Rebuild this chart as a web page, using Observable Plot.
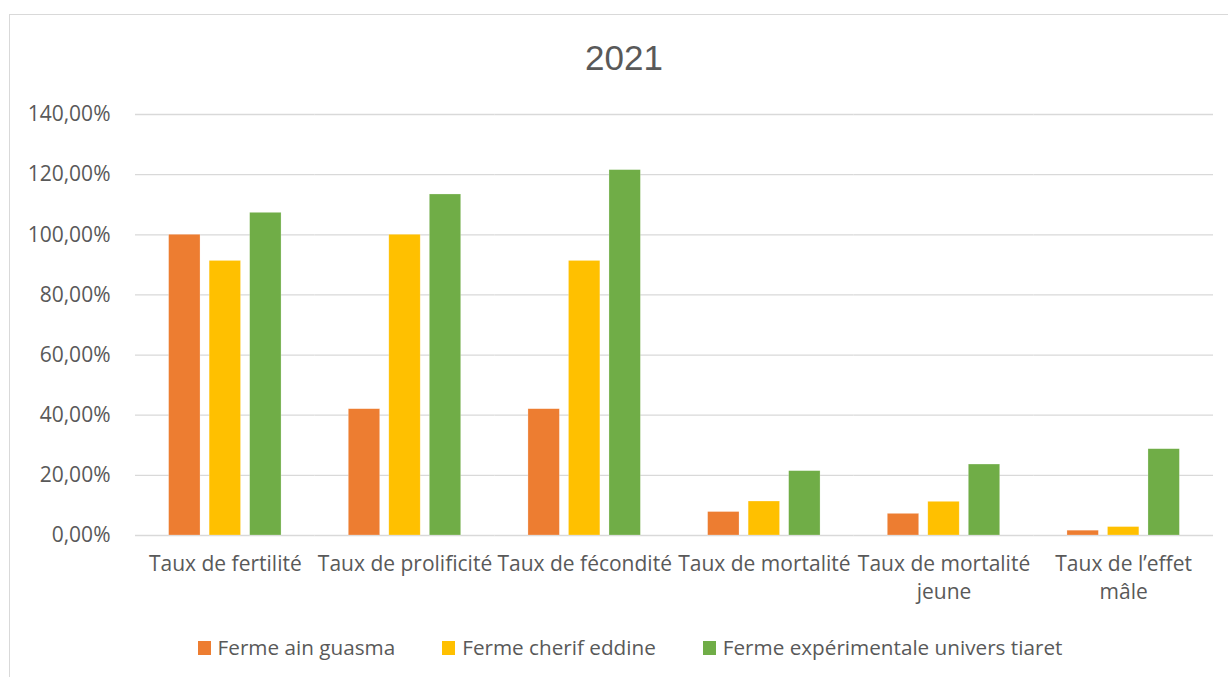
<!DOCTYPE html>
<html>
<head>
<meta charset="utf-8">
<script src="https://cdn.jsdelivr.net/npm/d3@7"></script>
<script src="https://cdn.jsdelivr.net/npm/@observablehq/plot@0.6"></script>
<style>
  html, body { margin: 0; padding: 0; background: #fff; }
  body { width: 1228px; height: 677px; position: relative; overflow: hidden; font-family: "Open Sans", sans-serif; }
  #frame { position: absolute; left: 9px; top: 14px; width: 1260px; height: 700px; border: 1px solid #d9d9d9; box-sizing: border-box; }
  #chart { position: absolute; left: 0; top: 0; }
  #title { position: absolute; left: 0; width: 1248px; top: 40px; text-align: center; font-family: "Liberation Sans", Arial, sans-serif; font-size: 35px; line-height: 35px; color: #595959; }
  #legend { position: absolute; left: 0; width: 1260px; top: 637px; display: flex; justify-content: center; gap: 47px; font-size: 20.7px; line-height: 21px; color: #595959; }
  .item { display: flex; align-items: center; }
  .sw { width: 13px; height: 14px; margin-right: 7px; display: inline-block; }
</style>
</head>
<body>
<div id="frame"></div>
<div id="chart"></div>
<div id="title">2021</div>
<div id="legend"></div>
<script>
const categories = ["Taux de fertilité", "Taux de prolificité", "Taux de fécondité", "Taux de mortalité", "Taux de mortalité jeune", "Taux de l’effet mâle"];
const categoryLabels = ["Taux de fertilité", "Taux de prolificité", "Taux de fécondité", "Taux de mortalité", "Taux de mortalité\njeune", "Taux de l’effet\nmâle"];
const series = ["Ferme ain guasma", "Ferme cherif eddine", "Ferme expérimentale univers tiaret"];
const colors = ["#ED7D31", "#FFC000", "#70AD47"];
const ainGuasma = [1.00, 0.42, 0.42, 0.078, 0.072, 0.016];
const cherifEddine = [0.913, 1.00, 0.913, 0.113, 0.112, 0.028];
const universTiaret = [1.073, 1.134, 1.215, 0.214, 0.236, 0.287];
const yTicks = [0, 0.2, 0.4, 0.6, 0.8, 1.0, 1.2, 1.4];

const seriesValues = [ainGuasma, cherifEddine, universTiaret];
const data = [];
categories.forEach((c, i) => {
  series.forEach((s, j) => data.push({category: c, series: s, value: seriesValues[j][i]}));
});
const labelOf = new Map(categories.map((c, i) => [c, categoryLabels[i]]));
const fmt = d => (d * 100).toFixed(2).replace(".", ",") + "%";

const plot = Plot.plot({
  width: 1228,
  height: 620,
  marginLeft: 135,
  marginRight: 15,
  marginTop: 114,
  marginBottom: 85,
  style: {fontFamily: "Open Sans", fontSize: "21px", color: "#595959", background: "transparent"},
  fx: {domain: categories, padding: 0, round: false, label: null},
  x: {domain: series, paddingInner: 0.225, paddingOuter: 0.83, round: false, axis: null},
  y: {domain: [0, 1.4], label: null},
  color: {domain: series, range: colors},
  marks: [
    Plot.ruleY(yTicks, {stroke: "#d9d9d9", strokeWidth: 1.3}),
    Plot.barY(data, {fx: "category", x: "series", y: "value", fill: "series", stroke: "#ffffff", strokeOpacity: 0.4, strokeWidth: 0.6}),
    Plot.axisY({ticks: yTicks, tickFormat: fmt, tickSize: 0, tickPadding: 25, fontSize: 21, label: null}),
    Plot.axisFx({anchor: "bottom", tickSize: 0, tickPadding: 15, fontSize: 21, lineHeight: 1.35, tickFormat: d => labelOf.get(d), label: null})
  ]
});
document.getElementById("chart").appendChild(plot);

const legend = document.getElementById("legend");
series.forEach((s, j) => {
  const it = document.createElement("div");
  it.className = "item";
  const sw = document.createElement("span");
  sw.className = "sw";
  sw.style.background = colors[j];
  const tx = document.createElement("span");
  tx.textContent = s;
  it.appendChild(sw);
  it.appendChild(tx);
  legend.appendChild(it);
});
</script>
</body>
</html>
